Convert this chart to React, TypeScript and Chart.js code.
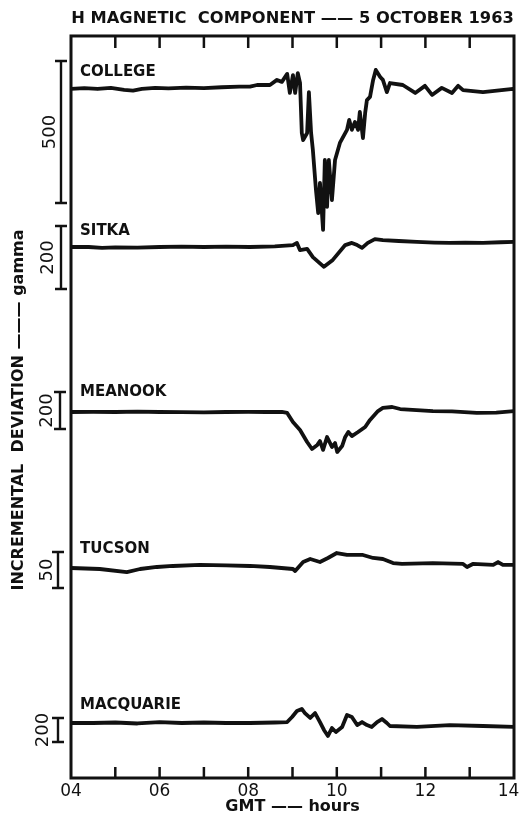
import React, { useEffect, useRef } from 'react';
import { Chart, registerables } from 'chart.js';

Chart.register(...registerables);

// ---------------- data ----------------
const titleText = 'H MAGNETIC  COMPONENT —— 5 OCTOBER 1963';
const yAxisText = 'INCREMENTAL  DEVIATION ——— gamma';
const xAxisText = 'GMT —— hours';

const hourTicks = [4, 6, 8, 10, 12, 14];
const hourTickLabels = ['04', '06', '08', '10', '12', '14'];
const hourMarks = [5, 6, 7, 8, 9, 10, 11, 12, 13];

const stationNames = ['COLLEGE', 'SITKA', 'MEANOOK', 'TUCSON', 'MACQUARIE'];
const scaleBarGamma = [500, 200, 200, 50, 200];
const scaleBarLabels = ['500', '200', '200', '50', '200'];

const collegeHours = [4.0, 4.3, 4.6, 4.9, 5.2, 5.4, 5.6, 5.9, 6.2, 6.6, 7.0, 7.4, 7.8, 8.04, 8.2, 8.49, 8.65, 8.76, 8.88, 8.94, 9.01, 9.06, 9.12, 9.17, 9.21, 9.24, 9.33, 9.37, 9.42, 9.46, 9.53, 9.58, 9.62, 9.69, 9.73, 9.78, 9.82, 9.89, 9.96, 10.07, 10.23, 10.28, 10.34, 10.41, 10.48, 10.52, 10.59, 10.64, 10.68, 10.75, 10.82, 10.88, 10.98, 11.04, 11.13, 11.2, 11.49, 11.77, 11.99, 12.15, 12.37, 12.6, 12.74, 12.85, 13.3, 13.98, 14.0];
const collegeGamma = [0, 3, 0, 4, -3, -6, 0, 4, 2, 5, 3, 6, 8, 8, 14, 14, 32, 25, 53, -14, 49, -14, 56, 21, -155, -180, -155, -11, -155, -215, -356, -437, -331, -496, -250, -415, -250, -391, -250, -190, -144, -109, -144, -116, -144, -81, -173, -85, -39, -28, 32, 67, 42, 32, -11, 21, 14, -14, 11, -21, 4, -14, 11, -4, -11, 0, 0];

const sitkaHours = [4.0, 4.4, 4.7, 5.0, 5.5, 6.0, 6.5, 7.0, 7.5, 8.04, 8.6, 9.01, 9.1, 9.17, 9.33, 9.46, 9.71, 9.91, 10.19, 10.34, 10.46, 10.57, 10.7, 10.86, 11.04, 11.4, 11.81, 12.2, 12.55, 12.9, 13.3, 13.7, 14.0];
const sitkaGamma = [0, 0, -3, -1, -2, 0, 1, 0, 1, 0, 2, 6, 13, -10, -6, -32, -63, -41, 6, 13, 6, -3, 13, 25, 22, 19, 16, 14, 13, 14, 13, 15, 16];

const meanookHours = [4.0, 4.5, 5.0, 5.5, 6.0, 6.5, 7.0, 7.5, 8.0, 8.4, 8.76, 8.88, 9.01, 9.17, 9.33, 9.44, 9.56, 9.62, 9.69, 9.78, 9.89, 9.96, 10.01, 10.12, 10.19, 10.26, 10.34, 10.48, 10.64, 10.75, 10.93, 11.04, 11.25, 11.43, 11.8, 12.17, 12.6, 13.16, 13.6, 14.0];
const meanookGamma = [0, 1, 0, 2, 0, -1, -2, 0, 1, 0, 0, -5, -54, -97, -162, -200, -178, -157, -205, -135, -189, -168, -216, -184, -135, -108, -130, -108, -81, -43, 5, 22, 27, 16, 10, 5, 3, -5, -3, 5];

const tucsonHours = [4.0, 4.65, 5.26, 5.56, 5.94, 6.3, 6.91, 7.5, 8.04, 8.49, 9.01, 9.06, 9.24, 9.4, 9.62, 9.8, 10.0, 10.23, 10.59, 10.82, 11.04, 11.27, 11.47, 12.17, 12.85, 12.94, 13.07, 13.53, 13.64, 13.75, 14.0];
const tucsonGamma = [0, -1.4, -5.6, -1.4, 1.4, 2.8, 4.2, 3.5, 2.8, 1.4, -1.4, -4.2, 8.3, 12.5, 8.3, 13.9, 20.8, 18.1, 18.1, 13.9, 12.5, 6.9, 5.6, 6.9, 5.6, 1.4, 5.6, 4.2, 8.3, 4.2, 4.2];

const macquarieHours = [4.0, 4.5, 5.0, 5.5, 6.0, 6.5, 7.0, 7.5, 8.04, 8.6, 8.88, 8.99, 9.1, 9.21, 9.28, 9.4, 9.51, 9.62, 9.71, 9.8, 9.89, 9.98, 10.12, 10.23, 10.34, 10.46, 10.57, 10.68, 10.79, 10.91, 11.02, 11.13, 11.2, 11.81, 12.55, 13.3, 14.0];
const macquarieGamma = [0, 0, 4, -4, 8, 0, 4, 0, 0, 4, 8, 50, 100, 117, 83, 42, 83, 8, -58, -108, -42, -75, -33, 67, 50, -17, 8, -17, -33, 8, 33, 0, -25, -33, -17, -25, -33];

const stationHours = [collegeHours, sitkaHours, meanookHours, tucsonHours, macquarieHours];
const stationGamma = [collegeGamma, sitkaGamma, meanookGamma, tucsonGamma, macquarieGamma];

// ---------------- layout / style ----------------
const W = 519;
const H = 819;
const AREA_TOP = 36;
const AREA_BOTTOM = 778;
const baselinePx = [89, 247, 412, 568, 723];
const pxPerGamma = [0.284, 0.315, 0.185, 0.72, 0.12];
const barTopAbovePx = [28, 21, 20, 16, 5];
const barX = [61, 61, 60, 58, 58];
const barLabelX = [50, 48.5, 47.5, 47.5, 43];
const nameAbovePx = [16.5, 16, 19.5, 19, 17.5];
const INK = '#111111';
const FONT = '"DejaVu Sans", sans-serif';

export default function App() {
  const ref = useRef<HTMLCanvasElement | null>(null);

  useEffect(() => {
    const canvas = ref.current;
    if (!canvas) return;

    const datasets = stationNames.map((name, i) => ({
      label: name,
      data: stationHours[i].map((t, k) => ({ x: t, y: stationGamma[i][k] })),
      yAxisID: 'y' + i,
      borderColor: INK,
      backgroundColor: INK,
      borderWidth: 3.8,
      pointRadius: 0,
      tension: 0,
      borderJoinStyle: 'round' as const,
      borderCapStyle: 'round' as const,
      fill: false,
    }));

    const yScales: any = {};
    stationNames.forEach((_, i) => {
      yScales['y' + i] = {
        type: 'linear',
        display: false,
        min: -(AREA_BOTTOM - baselinePx[i]) / pxPerGamma[i],
        max: (baselinePx[i] - AREA_TOP) / pxPerGamma[i],
      };
    });

    const decor = {
      id: 'decor',
      afterDraw(chart: any) {
        const ctx = chart.ctx as CanvasRenderingContext2D;
        const { left, right, top, bottom } = chart.chartArea;
        const xs = chart.scales.x;
        ctx.save();
        ctx.strokeStyle = INK;
        ctx.fillStyle = INK;
        // frame
        ctx.lineWidth = 3;
        ctx.strokeRect(left, top, right - left, bottom - top);
        // inward hour ticks
        ctx.lineWidth = 2.5;
        hourMarks.forEach((h) => {
          const px = xs.getPixelForValue(h);
          ctx.beginPath();
          ctx.moveTo(px, top);
          ctx.lineTo(px, top + 12);
          ctx.moveTo(px, bottom);
          ctx.lineTo(px, bottom - 11);
          ctx.stroke();
        });
        // station names and scale bars
        stationNames.forEach((name, i) => {
          const ys = chart.scales['y' + i];
          const base = ys.getPixelForValue(0);
          ctx.font = `bold 15px ${FONT}`;
          ctx.textAlign = 'left';
          ctx.textBaseline = 'middle';
          ctx.fillText(name, left + 9, base - nameAbovePx[i]);

          const topVal = barTopAbovePx[i] / pxPerGamma[i];
          const y1 = ys.getPixelForValue(topVal);
          const y2 = ys.getPixelForValue(topVal - scaleBarGamma[i]);
          const bx = barX[i];
          ctx.lineWidth = 2.4;
          ctx.beginPath();
          ctx.moveTo(bx, y1);
          ctx.lineTo(bx, y2);
          ctx.moveTo(bx - 6, y1);
          ctx.lineTo(bx + 6, y1);
          ctx.moveTo(bx - 6, y2);
          ctx.lineTo(bx + 6, y2);
          ctx.stroke();

          ctx.save();
          ctx.translate(barLabelX[i], (y1 + y2) / 2);
          ctx.rotate(-Math.PI / 2);
          ctx.font = `18px ${FONT}`;
          ctx.textAlign = 'center';
          ctx.textBaseline = 'middle';
          ctx.fillText(scaleBarLabels[i], 0, 0);
          ctx.restore();
        });
        // y axis label
        ctx.save();
        ctx.translate(19, 410);
        ctx.rotate(-Math.PI / 2);
        ctx.font = `bold 16px ${FONT}`;
        ctx.textAlign = 'center';
        ctx.textBaseline = 'middle';
        ctx.fillText(yAxisText, 0, 0);
        ctx.restore();
        ctx.restore();
      },
    };

    const chart = new Chart(canvas, {
      type: 'line',
      data: { datasets },
      options: {
        responsive: false,
        animation: false,
        events: [],
        layout: { padding: { left: 71, right: 5, top: 0, bottom: 0 } },
        plugins: {
          legend: { display: false },
          tooltip: { enabled: false },
          title: {
            display: true,
            text: titleText,
            color: INK,
            font: { family: FONT, size: 16.3, weight: 'bold', lineHeight: 1.25 },
            padding: { top: 9, bottom: 6.6 },
          },
        },
        scales: {
          x: {
            type: 'linear',
            min: 4,
            max: 14,
            afterFit: (axis: any) => {
              axis.height = H - AREA_BOTTOM;
              axis.paddingLeft = 0;
              axis.paddingRight = 0;
            },
            afterBuildTicks: (axis: any) => {
              axis.ticks = hourTicks.map((v) => ({ value: v }));
            },
            grid: { display: false, drawTicks: false },
            border: { display: false },
            ticks: {
              autoSkip: false,
              maxRotation: 0,
              padding: 3,
              color: INK,
              font: { family: FONT, size: 17 },
              callback: (v: any) => {
                const k = hourTicks.indexOf(Number(v));
                if (k < 0) return '';
                // keep the last label inside the page, as in the original
                return k === hourTicks.length - 1 ? hourTickLabels[k] + '\u00a0\u00a0' : hourTickLabels[k];
              },
            },
            title: {
              display: true,
              text: xAxisText,
              color: INK,
              font: { family: FONT, size: 16, weight: 'bold', lineHeight: 1.2 },
              padding: { top: 0, bottom: 3 },
            },
          },
          ...yScales,
        },
      } as any,
      plugins: [decor],
    });

    return () => chart.destroy();
  }, []);

  return (
    <div style={{ position: 'absolute', left: 0, top: 0, width: W, height: H, background: '#fff' }}>
      <canvas ref={ref} width={W} height={H} style={{ display: 'block', width: W, height: H }} />
    </div>
  );
}
